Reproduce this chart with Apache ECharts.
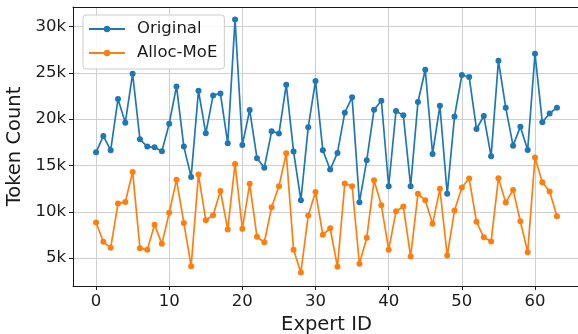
<!DOCTYPE html>
<html>
<head>
<meta charset="utf-8">
<script src="https://cdn.jsdelivr.net/npm/echarts@6.0.0/dist/echarts.min.js"></script>
<style>
  html, body { margin: 0; padding: 0; background: #fff; }
  #chart { width: 578px; height: 334px; }
</style>
</head>
<body>
<div id="chart"></div>
<script>
// token counts per expert
const expertIds = Array.from({ length: 64 }, (_, i) => i);
const original = [
  16420, 18190, 16640, 22170, 19620, 24900, 17820, 17040, 16960, 16530,
  19510, 23530, 17040, 13770, 23070, 18470, 22560, 22780, 17390, 30750,
  17220, 20990, 15780, 14770, 18690, 18440, 23720, 16500, 11250, 19120,
  24120, 16640, 14560, 16360, 20700, 22350, 11030, 15560, 21020, 21990,
  12760, 20880, 20410, 12760, 21850, 25330, 16250, 21450, 11940, 20300,
  24760, 24550, 18940, 20340, 15990, 26300, 21240, 17140, 19190, 16680,
  27060, 19660, 20620, 21240
];
const allocMoE = [
  8850, 6770, 6120, 10900, 11070, 14310, 6080, 5900, 8600, 6550,
  9890, 13450, 8810, 4140, 14020, 9100, 9630, 12260, 8100, 15170,
  8170, 13020, 7300, 6720, 10500, 12760, 16310, 5900, 3460, 9600,
  12150, 7520, 8230, 4070, 13050, 12760, 4400, 7200, 13400, 10710,
  5900, 10060, 10570, 5180, 11940, 11250, 8710, 12480, 5290, 10140,
  12620, 13590, 8920, 7260, 6800, 13620, 11000, 12370, 8990, 5650,
  15850, 13190, 12190, 9530
];

const font = 'DejaVu Sans';
const ink = '#1a1a1a';
const gridColor = '#cfcfcf';

const chart = echarts.init(document.getElementById('chart'));

const lineSeries = (name, values, color) => ({
  name: name,
  type: 'line',
  data: expertIds.map((id, i) => [id, values[i]]),
  symbol: 'circle',
  symbolSize: 6,
  lineStyle: { color: color, width: 1.7 },
  itemStyle: { color: color },
  emphasis: { disabled: true },
  animation: false,
});

chart.setOption({
  animation: false,
  grid: {
    left: 73, right: -2, top: 7, bottom: 48,
    outerBoundsMode: 'none',
    containLabel: false,
  },
  legend: {
    orient: 'vertical',
    left: 83, top: 15,
    padding: [5, 7, 7, 5],
    itemGap: 6,
    itemWidth: 36,
    itemHeight: 8,
    backgroundColor: 'rgba(255,255,255,0.85)',
    borderColor: '#cccccc',
    borderWidth: 1,
    borderRadius: 3,
    textStyle: {
      fontFamily: font, fontSize: 16.5, color: ink,
      lineHeight: 18, padding: [0, 0, 0, 7],
    },
    data: ['Original', 'Alloc-MoE'],
  },
  xAxis: [{
    type: 'value',
    min: -3.15, max: 66.15,
    splitNumber: 5,
    name: 'Expert ID',
    nameLocation: 'middle',
    nameGap: 26,
    nameTextStyle: { fontFamily: font, fontSize: 19.5, color: ink },
    axisLine: { show: true, lineStyle: { color: ink, width: 1 } },
    axisTick: { show: true, length: 4, lineStyle: { color: ink } },
    axisLabel: {
      fontFamily: font, fontSize: 16.5, color: ink, margin: 7,
      showMinLabel: false, showMaxLabel: false,
      formatter: v => (Math.abs(v % 10) < 1e-6 ? String(v) : ''),
    },
    splitLine: {
      show: true, showMinLine: false, showMaxLine: false,
      lineStyle: { color: gridColor, width: 1 },
    },
  }, {
    // top spine only
    type: 'value',
    position: 'top',
    min: -3.15, max: 66.15,
    axisLine: { show: true, onZero: false, lineStyle: { color: ink, width: 1 } },
    axisTick: { show: false },
    axisLabel: { show: false },
    splitLine: { show: false },
  }],
  yAxis: {
    type: 'value',
    min: 2000, max: 32100,
    splitNumber: 5,
    name: 'Token Count',
    nameLocation: 'middle',
    nameGap: 43,
    nameTextStyle: { fontFamily: font, fontSize: 19.5, color: ink },
    axisLine: { show: true, onZero: false, lineStyle: { color: ink, width: 1 } },
    axisTick: { show: true, length: 4, lineStyle: { color: ink } },
    axisLabel: {
      fontFamily: font, fontSize: 16.5, color: ink, margin: 7,
      showMinLabel: false, showMaxLabel: false,
      formatter: v => (v % 5000 === 0 ? v / 1000 + 'k' : ''),
    },
    splitLine: {
      show: true, showMinLine: false, showMaxLine: false,
      lineStyle: { color: gridColor, width: 1 },
    },
  },
  series: [
    lineSeries('Original', original, '#1f77b4'),
    lineSeries('Alloc-MoE', allocMoE, '#ff7f0e'),
  ],
});
</script>
</body>
</html>
